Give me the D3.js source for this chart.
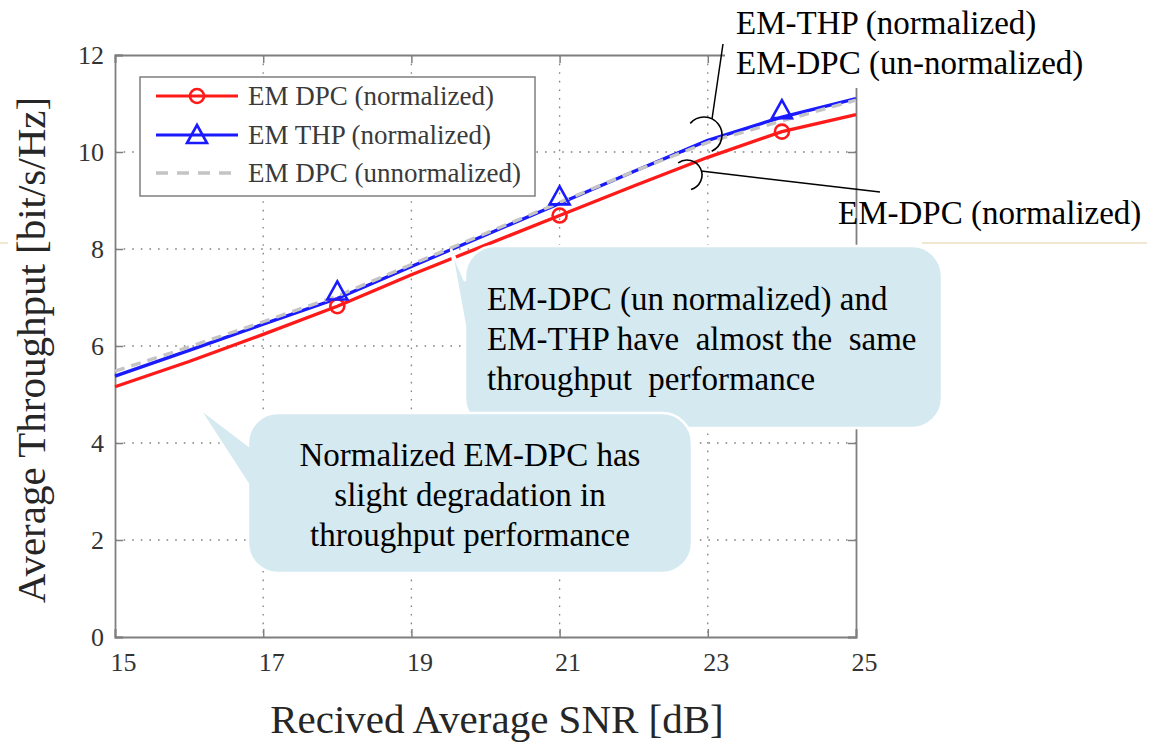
<!DOCTYPE html>
<html>
<head>
<meta charset="utf-8">
<script src="https://cdn.jsdelivr.net/npm/d3@7"></script>
<style>
  html, body { margin: 0; padding: 0; background: #fff; }
  svg { display: block; }
</style>
</head>
<body>
<svg id="chart" width="1157" height="749"></svg>
<script>
// ---------- data ----------
const snr = [15, 16, 17, 18, 19, 20, 21, 22, 23, 24, 25];
const emDpcNormalized   = [5.16, 5.68, 6.24, 6.82, 7.47, 8.08, 8.69, 9.30, 9.89, 10.42, 10.77];
const emThpNormalized   = [5.38, 5.91, 6.45, 6.98, 7.64, 8.29, 8.94, 9.60, 10.24, 10.72, 11.10];
const emDpcUnnormalized = [5.48, 5.98, 6.50, 7.03, 7.68, 8.32, 8.96, 9.60, 10.20, 10.64, 11.07];
const markerSnr = [18, 21, 24];
const xTicks = [15, 17, 19, 21, 23, 25];
const yTicks = [0, 2, 4, 6, 8, 10, 12];
const legendLabels = ["EM DPC (normalized)", "EM THP (normalized)", "EM DPC (unnormalized)"];
const xTitle = "Recived Average SNR [dB]";
const yTitle = "Average Throughput [bit/s/Hz]";
const callout1 = ["EM-DPC (un normalized) and", "EM-THP have  almost the  same", "throughput  performance"];
const callout2 = ["Normalized EM-DPC has", "slight degradation in", "throughput performance"];
const noteTop = ["EM-THP (normalized)", "EM-DPC (un-normalized)"];
const noteBottom = "EM-DPC (normalized)";

const FONT = "'Liberation Serif'";

// ---------- layout ----------
const svg = d3.select("#chart");
const P = { left: 115, right: 856, top: 55, bottom: 637 };
const x = d3.scaleLinear().domain([15, 25]).range([P.left, P.right]);
const y = d3.scaleLinear().domain([0, 12]).range([P.bottom, P.top]);

const addText = (g, tx, ty, size, str) => g.append("text").attr("x", tx).attr("y", ty)
  .attr("font-size", size).style("font-family", FONT).text(str);

// faint slide line
svg.append("line").attr("x1", 0).attr("x2", 8).attr("y1", 243).attr("y2", 243)
  .attr("stroke", "#e3cfa0").attr("stroke-width", 1);
svg.append("line").attr("x1", 922).attr("x2", 1147).attr("y1", 243).attr("y2", 243)
  .attr("stroke", "#e3cfa0").attr("stroke-width", 1);

// grid
const grid = svg.append("g");
xTicks.slice(1, -1).forEach(t => {
  grid.append("line").attr("x1", x(t)).attr("x2", x(t)).attr("y1", P.top).attr("y2", P.bottom)
    .attr("stroke", "#808080").attr("stroke-width", 1.3).attr("stroke-dasharray", "1.6,7");
});
yTicks.slice(1, -1).forEach(t => {
  grid.append("line").attr("x1", P.left).attr("x2", P.right).attr("y1", y(t)).attr("y2", y(t))
    .attr("stroke", "#808080").attr("stroke-width", 1.3).attr("stroke-dasharray", "1.6,7");
});

// axes via d3 axis
const axisColor = "#7f7f7f";
const gx = svg.append("g").attr("transform", `translate(0,${P.bottom})`)
  .call(d3.axisBottom(x).tickValues(xTicks).tickSize(-8).tickPadding(16));
const gy = svg.append("g").attr("transform", `translate(${P.left},0)`)
  .call(d3.axisLeft(y).tickValues(yTicks).tickSize(-8).tickPadding(11));
const gxt = svg.append("g").attr("transform", `translate(0,${P.top})`)
  .call(d3.axisTop(x).tickValues(xTicks).tickSize(-8).tickFormat(""));
const gyr = svg.append("g").attr("transform", `translate(${P.right},0)`)
  .call(d3.axisRight(y).tickValues(yTicks).tickSize(-8).tickFormat(""));
[gx, gy, gxt, gyr].forEach(g => {
  g.attr("font-family", null);
  g.select(".domain").attr("stroke", axisColor).attr("stroke-width", 1.8);
  g.selectAll(".tick line").attr("stroke", axisColor).attr("stroke-width", 1.5);
  g.selectAll(".tick text").attr("fill", "#333").attr("font-size", 26).style("font-family", FONT);
});
gx.selectAll(".tick text").attr("dx", 8);

// series lines
const lineGen = vals => d3.line().x((d, i) => x(snr[i])).y(d => y(d))(vals);
svg.append("path").attr("d", lineGen(emDpcNormalized)).attr("fill", "none")
  .attr("stroke", "#ff1a1a").attr("stroke-width", 3.3).attr("stroke-linejoin", "round");
svg.append("path").attr("d", lineGen(emThpNormalized)).attr("fill", "none")
  .attr("stroke", "#1a1aff").attr("stroke-width", 3.3).attr("stroke-linejoin", "round");
svg.append("path").attr("d", lineGen(emDpcUnnormalized)).attr("fill", "none")
  .attr("stroke", "#c4c4c4").attr("stroke-width", 3.4).attr("stroke-dasharray", "10,7");

// markers
const circleAt = (g, cx, cy) => g.append("circle").attr("cx", cx).attr("cy", cy).attr("r", 7)
  .attr("fill", "none").attr("stroke", "#ff1a1a").attr("stroke-width", 2.6);
const triAt = (g, cx, cy) => g.append("path")
  .attr("d", `M${cx},${cy - 17} L${cx + 10},${cy + 1} L${cx - 10},${cy + 1} Z`)
  .attr("fill", "none").attr("stroke", "#1a1aff").attr("stroke-width", 2.6).attr("stroke-linejoin", "miter");
markerSnr.forEach(s => {
  const i = snr.indexOf(s);
  circleAt(svg, x(s), y(emDpcNormalized[i]));
  triAt(svg, x(s), y(emThpNormalized[i]));
});

// legend
const lg = svg.append("g");
lg.append("rect").attr("x", 140).attr("y", 77).attr("width", 395).attr("height", 119)
  .attr("fill", "#fff").attr("stroke", axisColor).attr("stroke-width", 1.5);
const rowY = [96, 135, 173];
const legColors = ["#ff1a1a", "#1a1aff", "#c4c4c4"];
legendLabels.forEach((lab, i) => {
  const ln = lg.append("line").attr("x1", 156).attr("x2", 238).attr("y1", rowY[i]).attr("y2", rowY[i])
    .attr("stroke", legColors[i]).attr("stroke-width", 3.2);
  if (i === 2) ln.attr("stroke-dasharray", "12,9").attr("stroke-width", 3.4);
  if (i === 0) circleAt(lg, 197, rowY[i]);
  if (i === 1) triAt(lg, 197, rowY[i] + 7);
  addText(lg, 248, rowY[i] + 9, 27, lab).attr("fill", "#3a3a3a");
});

// axis titles
addText(svg, 497, 733, 41, xTitle).attr("text-anchor", "middle").attr("fill", "#262626");
addText(svg, 0, 0, 41, yTitle).attr("transform", "translate(45,350) rotate(-90)")
  .attr("text-anchor", "middle").attr("fill", "#262626");

// callouts
function calloutPath(bx, by, w, h, r, ax, ay, t1, t2) {
  return `M${bx + r},${by} L${bx + w - r},${by} A${r},${r} 0 0 1 ${bx + w},${by + r}` +
    ` L${bx + w},${by + h - r} A${r},${r} 0 0 1 ${bx + w - r},${by + h}` +
    ` L${bx + r},${by + h} A${r},${r} 0 0 1 ${bx},${by + h - r}` +
    ` L${bx},${t2} L${ax},${ay} L${bx},${t1} L${bx},${by + r}` +
    ` A${r},${r} 0 0 1 ${bx + r},${by} Z`;
}
const calloutFill = "#d4e9f0";
svg.append("path").attr("d", calloutPath(465, 246, 477, 182, 30, 451, 249, 281, 326))
  .attr("fill", calloutFill).attr("stroke", "#fff").attr("stroke-width", 2.5);
svg.append("path").attr("d", calloutPath(248, 413, 444, 160, 30, 198, 407, 445, 484))
  .attr("fill", calloutFill).attr("stroke", "#fff").attr("stroke-width", 2.5);

callout1.forEach((t, i) => {
  addText(svg, 487, 310 + i * 40, 33, t).attr("fill", "#000").style("white-space", "pre");
});
callout2.forEach((t, i) => {
  addText(svg, 470, 466 + i * 40, 33, t).attr("text-anchor", "middle").attr("fill", "#000");
});

// top-right notes
svg.append("rect").attr("x", 725).attr("y", 0).attr("width", 370).attr("height", 88).attr("fill", "#fff");
noteTop.forEach((t, i) => {
  addText(svg, 736, 34 + i * 40, 33, t).attr("fill", "#000");
});
addText(svg, 838, 224, 33, noteBottom).attr("fill", "#000");

// leader lines and brackets
svg.append("line").attr("x1", 723).attr("y1", 44).attr("x2", 712).attr("y2", 119)
  .attr("stroke", "#000").attr("stroke-width", 1.5);
const p1 = d3.path(); p1.arc(704, 135, 18, -2.44, 1.13);
svg.append("path").attr("d", p1.toString()).attr("fill", "none").attr("stroke", "#000").attr("stroke-width", 1.6);
svg.append("line").attr("x1", 701).attr("y1", 171).attr("x2", 880).attr("y2", 192)
  .attr("stroke", "#000").attr("stroke-width", 1.5);
const p2 = d3.path(); p2.arc(687, 175, 15, -2.2, 1.3);
svg.append("path").attr("d", p2.toString()).attr("fill", "none").attr("stroke", "#000").attr("stroke-width", 1.6);
</script>
</body>
</html>
